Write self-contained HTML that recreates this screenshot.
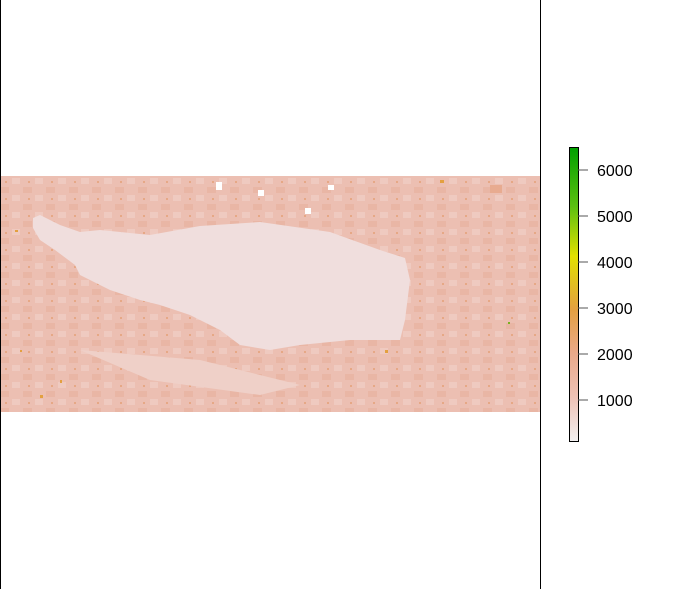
<!DOCTYPE html>
<html><head><meta charset="utf-8"><style>
body{margin:0;background:#fff;width:693px;height:589px;overflow:hidden;font-family:"Liberation Sans",sans-serif}
</style></head><body>
<svg width="693" height="589" viewBox="0 0 693 589">
<defs>
<linearGradient id="cb" x1="0" y1="1" x2="0" y2="0">
<stop offset="0" stop-color="#f2f0f0"/>
<stop offset="0.15" stop-color="#eec2b6"/>
<stop offset="0.3" stop-color="#eaa98a"/>
<stop offset="0.45" stop-color="#e3a040"/>
<stop offset="0.63" stop-color="#e2e000"/>
<stop offset="0.8" stop-color="#5cc010"/>
<stop offset="1" stop-color="#00a000"/>
</linearGradient>
<pattern id="tex" width="23" height="17" patternUnits="userSpaceOnUse">
<rect width="23" height="17" fill="#ecbfb2"/>
<rect x="0" y="0" width="9" height="6" fill="#e9b6a5"/>
<rect x="12" y="8" width="8" height="6" fill="#efcac0"/>
<rect x="5" y="11" width="2" height="2" fill="#e6a886"/>
</pattern>
</defs>
<rect x="0" y="176" width="540" height="236" fill="url(#tex)"/>
<path d="M33,218 L40,215 L60,225 L80,232 L100,230 L150,235 L200,226 L260,222 L330,232 L380,250 L405,258 L410,280 L405,320 L400,340 L350,340 L300,345 L270,350 L240,345 L220,330 L190,315 L160,305 L140,300 L110,290 L80,275 L75,265 L55,250 L40,240 L33,228 Z" fill="#f0dedd"/>
<path d="M80,350 L200,360 L300,385 L260,395 L150,380 Z" fill="#efd0c8"/>
<g>
<rect x="216" y="182" width="6" height="8" fill="#fff"/><rect x="258" y="190" width="6" height="6" fill="#fff"/>
<rect x="305" y="208" width="6" height="6" fill="#fff"/><rect x="328" y="185" width="6" height="5" fill="#fff"/>
<rect x="20" y="350" width="2" height="2" fill="#e3a040"/><rect x="40" y="395" width="3" height="3" fill="#e3a040"/>
<rect x="60" y="380" width="2" height="3" fill="#e3a040"/><rect x="15" y="230" width="3" height="2" fill="#e3a040"/>
<rect x="490" y="185" width="12" height="8" fill="#e8ab90"/><rect x="440" y="180" width="4" height="3" fill="#e3a040"/>
<rect x="385" y="350" width="3" height="3" fill="#e3a040"/><rect x="508" y="322" width="2" height="2" fill="#7ab020"/>
</g>
<line x1="0.5" y1="0" x2="0.5" y2="589" stroke="#000"/>
<line x1="540.5" y1="0" x2="540.5" y2="589" stroke="#000"/>
<rect x="569.5" y="147.5" width="9" height="294" fill="url(#cb)" stroke="#000"/>
<g id="ticks" font-size="16" fill="#000"></g>
</svg>
<script>
const tickValues=[1000,2000,3000,4000,5000,6000];
const g=document.getElementById('ticks');
const y=v=>400-(v-1000)*0.046;
tickValues.forEach(v=>{
 const l=document.createElementNS('http://www.w3.org/2000/svg','line');
 
 
 l.setAttribute('x1',578);l.setAttribute('x2',588);l.setAttribute('y1',y(v));l.setAttribute('y2',y(v));l.setAttribute('stroke','#555');
 g.appendChild(l);
 const t=document.createElementNS('http://www.w3.org/2000/svg','text');
 
 
 t.setAttribute('x',597);t.setAttribute('y',y(v)+6);t.textContent=v;
 g.appendChild(t);
});
</script>
</body></html>
